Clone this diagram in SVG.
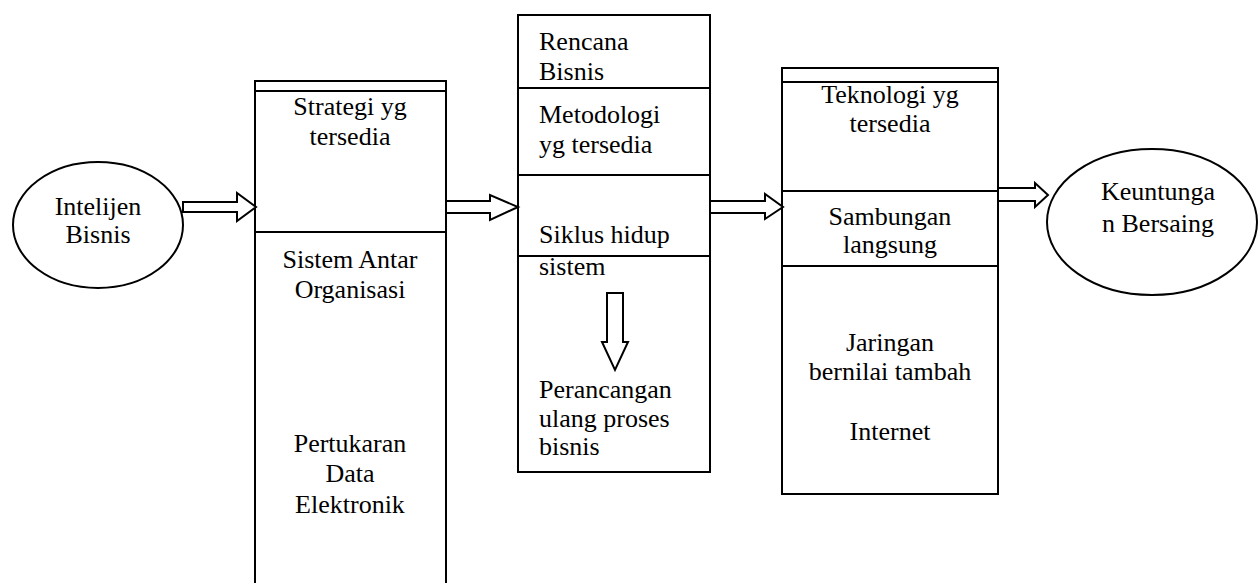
<svg xmlns="http://www.w3.org/2000/svg" width="1258" height="583" viewBox="0 0 1258 583">
<style>
.b{fill:#fff;stroke:#000;stroke-width:2}
.l{fill:none;stroke:#000;stroke-width:2}
.a{fill:#fff;stroke:#000;stroke-width:2;stroke-linejoin:miter}
.c{text-anchor:middle}
text{font-family:"Liberation Serif","Times New Roman",serif;font-size:26px;fill:#000}
</style>
<rect width="1258" height="583" fill="#fff"/>
<g id="intelijen">
<ellipse class="b" cx="98" cy="225" rx="85" ry="63"/>
<text class="c" x="98" y="215">Intelijen</text>
<text class="c" x="98" y="243">Bisnis</text>
</g>
<g id="strategi">
<rect class="b" x="255" y="81" width="191" height="520"/>
<line class="l" x1="255" y1="91" x2="446" y2="91"/>
<line class="l" x1="255" y1="232" x2="446" y2="232"/>
<text class="c" x="350" y="115">Strategi yg</text>
<text class="c" x="350" y="145">tersedia</text>
<text class="c" x="350" y="268">Sistem Antar</text>
<text class="c" x="350" y="298">Organisasi</text>
<text class="c" x="350" y="452">Pertukaran</text>
<text class="c" x="350" y="482">Data</text>
<text class="c" x="350" y="513">Elektronik</text>
</g>
<g id="rencana">
<rect class="b" x="518" y="15" width="192" height="457"/>
<line class="l" x1="518" y1="88" x2="710" y2="88"/>
<line class="l" x1="518" y1="175" x2="710" y2="175"/>
<line class="l" x1="518" y1="256" x2="710" y2="256"/>
<text x="539" y="50">Rencana</text>
<text x="539" y="80">Bisnis</text>
<text x="539" y="123">Metodologi</text>
<text x="539" y="153">yg tersedia</text>
<text x="539" y="243">Siklus hidup</text>
<text x="539" y="275">sistem</text>
<polygon class="a" points="607,293 623,293 623,342 628,342 615,370 602,342 607,342"/>
<text x="539" y="398">Perancangan</text>
<text x="539" y="427">ulang proses</text>
<text x="539" y="455">bisnis</text>
</g>
<g id="teknologi">
<rect class="b" x="782" y="68" width="216" height="426"/>
<line class="l" x1="782" y1="82" x2="998" y2="82"/>
<line class="l" x1="782" y1="191" x2="998" y2="191"/>
<line class="l" x1="782" y1="266" x2="998" y2="266"/>
<text class="c" x="890" y="103">Teknologi yg</text>
<text class="c" x="890" y="132">tersedia</text>
<text class="c" x="890" y="225">Sambungan</text>
<text class="c" x="890" y="253">langsung</text>
<text class="c" x="890" y="351">Jaringan</text>
<text class="c" x="890" y="380">bernilai tambah</text>
<text class="c" x="890" y="440">Internet</text>
</g>
<g id="keuntungan">
<ellipse class="b" cx="1152" cy="222" rx="105" ry="73"/>
<text class="c" x="1158" y="200">Keuntunga</text>
<text class="c" x="1158" y="232">n Bersaing</text>
</g>
<g id="connectors">
<polygon class="a" points="183,202 237,202 237,193 256,207 237,221 237,212 183,212"/>
<polygon class="a" points="446,201 490,201 490,195 518,207 490,220 490,213 446,213"/>
<polygon class="a" points="710,201 765,201 765,194 783,207 765,219 765,213 710,213"/>
<polygon class="a" points="998,188 1035,188 1035,183 1048,195 1035,207 1035,201 998,201"/>
</g>
</svg>
